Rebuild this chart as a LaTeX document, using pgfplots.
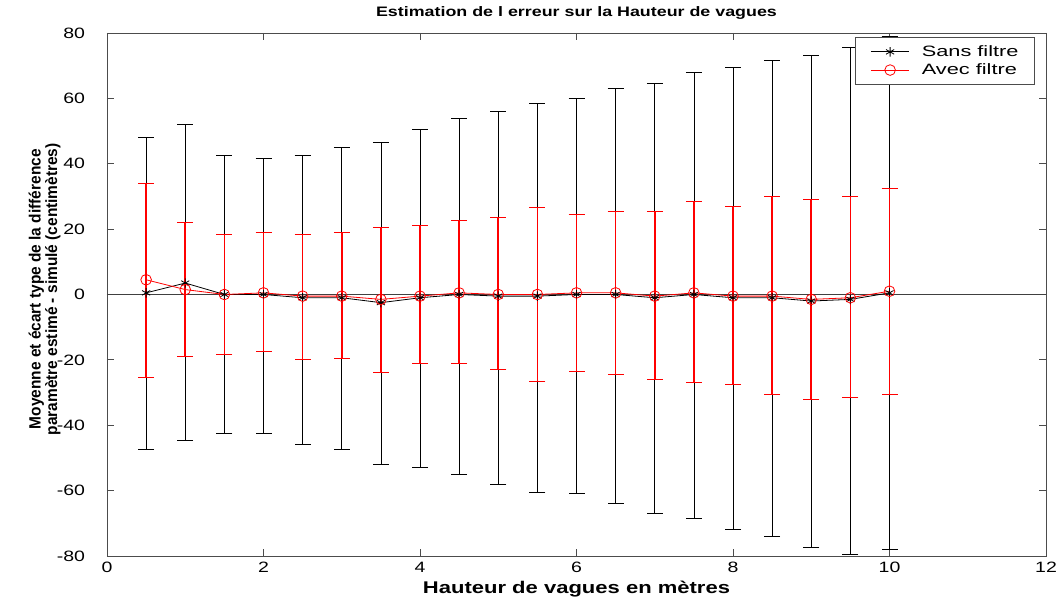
\documentclass[border=0pt]{standalone}
\usepackage{pgfplots}
\pgfplotsset{compat=1.18}
\usepackage{pgfplotstable}
\usepackage{fontspec}
\setmainfont{Liberation Sans}
\newfontfamily\narrow[FakeStretch=0.95]{Liberation Sans}
\newfontfamily\wide[FakeStretch=1.3]{Liberation Sans}
\newfontfamily\wider[FakeStretch=1.45]{Liberation Sans}

% x  mean  error+  error-
\pgfplotstableread{
x    y     ep    em
0.5  0.5   47.5  48
1    3.5   48.5  48
1.5  0     42.5  42.5
2    0     41.5  42.5
2.5  -1    43.5  45
3    -1    46    46.5
3.5  -2.5  49    49.5
4    -1    51.5  52
4.5  0     54    55
5    -0.5  56.5  57.5
5.5  -0.5  59    60
6    0     60    61
6.5  0     63    64
7    -1    65.5  66
7.5  0     68    68.5
8    -1    70.5  71
8.5  -1    72.5  73
9    -2    75    75.5
9.5  -1.5  77    78
10   0.5   78.5  78.5
}\sansfiltre

\pgfplotstableread{
x    y     ep    em
0.5  4.5   29.5  30
1    1.5   20.5  20.5
1.5  0     18.5  18.5
2    0.5   18.5  18
2.5  -0.5  19    19.5
3    -0.5  19.5  19
3.5  -1.5  22    22.5
4    -0.5  21.5  20.5
4.5  0.5   22    21.5
5    0     23.5  23
5.5  0     26.5  26.5
6    0.5   24    24
6.5  0.5   25    25
7    -0.5  26    25.5
7.5  0.5   28    27.5
8    -0.5  27.5  27
8.5  -0.5  30.5  30
9    -1.5  30.5  30.5
9.5  -1    31    30.5
10   1     31.5  31.5
}\avecfiltre

\begin{document}
\begin{tikzpicture}
\begin{axis}[
    scale only axis,
    width=704.25pt, height=392.25pt,
    xmin=0, xmax=12, ymin=-80, ymax=80,
    xtick={0,2,...,12}, ytick={-80,-60,...,80},
    tick align=inside,
    major tick length=5pt,
    axis line style={black!70, line width=0.7pt},
    tick style={black!70, line width=0.7pt},
    ticklabel style={font=\wide\fontsize{11.25}{12}\selectfont},
    yticklabel style={xshift=-13pt},
    xticklabel style={yshift=-1pt},
    /pgf/number format/assume math mode=true,
    title={\wide\bfseries Estimation de l erreur sur la Hauteur de vagues},
    title style={font=\fontsize{10.3}{12}\selectfont,
        at={(axis description cs:0.5,1)}, anchor=base, yshift=6pt},
    xlabel={\wide\bfseries Hauteur de vagues en mètres},
    xlabel style={font=\fontsize{12.7}{13}\selectfont,
        at={(axis description cs:0.5,0)}, anchor=base, yshift=-28pt},
    ylabel={\narrow\bfseries Moyenne et écart type de la différence\\ \narrow\bfseries paramètre estimé - simulé (centimètres)},
    ylabel style={font=\fontsize{12.2}{11.3}\selectfont, align=center,
        at={(axis description cs:-0.0665,0.51)}, anchor=center},
    legend style={at={(0.9883,0.9924)}, anchor=north east, draw=black!70,
        line width=0.7pt,
        font=\wider\fontsize{11.25}{13}\selectfont,
        inner xsep=8pt, inner ysep=4pt, nodes={inner xsep=4pt},
        row sep=0pt, cells={anchor=west}},
    legend image code/.code={
        \path (0pt,0pt) (37pt,0pt);
        \draw[mark repeat=2, mark phase=2] plot coordinates {(3pt,0pt) (17.5pt,0pt) (32pt,0pt)};},
]
\addplot[black!75, line width=0.7pt, forget plot] coordinates {(0,0) (12,0)};
\addplot[black, line width=0.6pt, mark=asterisk, mark size=3.5pt,
    error bars/.cd, y dir=both, y explicit,
    error bar style={black, line width=0.55pt},
    error mark options={black, mark size=6pt, line width=0.65pt, rotate=90}]
    table[x=x, y=y, y error plus=ep, y error minus=em] {\sansfiltre};
\addlegendentry{Sans filtre}
\addplot[red, line width=0.6pt, mark=o, mark size=4pt,
    error bars/.cd, y dir=both, y explicit,
    error bar style={red, line width=1.15pt},
    error mark options={red, mark size=6pt, line width=0.7pt, rotate=90}]
    table[x=x, y=y, y error plus=ep, y error minus=em] {\avecfiltre};
\addlegendentry{Avec filtre}
\end{axis}
\pgfresetboundingbox
\path[use as bounding box] ([xshift=-80.25pt,yshift=-30.75pt]current axis.south west)
    rectangle ([xshift=10.5pt,yshift=24.75pt]current axis.north east);
\end{tikzpicture}
\end{document}
